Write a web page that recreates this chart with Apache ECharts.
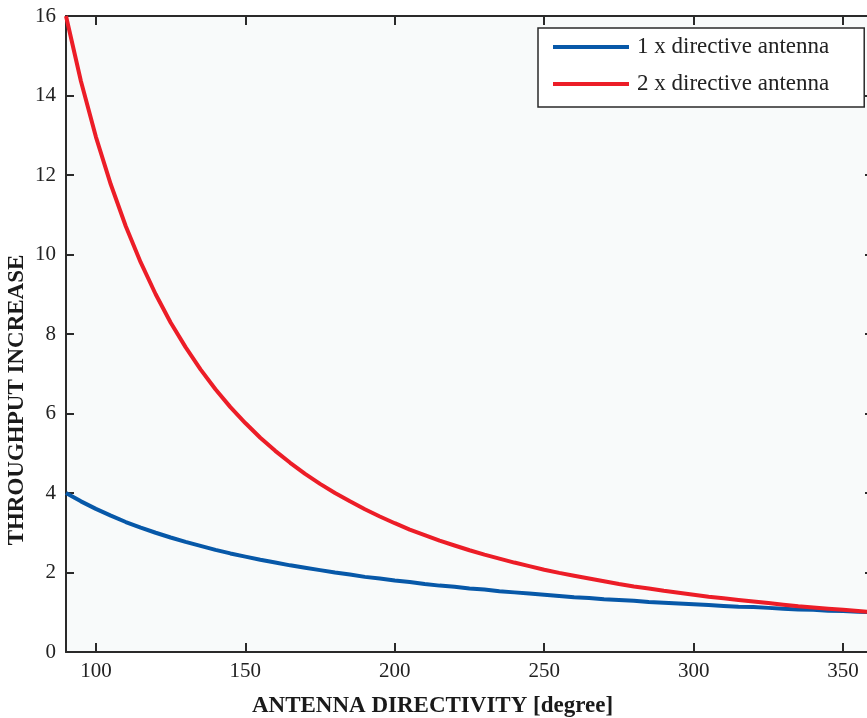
<!DOCTYPE html>
<html>
<head>
<meta charset="utf-8">
<script src="https://cdn.jsdelivr.net/npm/echarts@6/dist/echarts.min.js"></script>
<style>html,body{margin:0;padding:0;background:#fff}#c{width:867px;height:718px}</style>
</head>
<body>
<div id="c"></div>
<script>
const directivity = [90,95,100,105,110,115,120,125,130,135,140,145,150,155,160,165,170,175,180,185,190,195,200,205,210,215,220,225,230,235,240,245,250,255,260,265,270,275,280,285,290,295,300,305,310,315,320,325,330,335,340,345,350,355,360];
const oneAntenna = [4.00,3.79,3.60,3.43,3.27,3.13,3.00,2.88,2.77,2.67,2.57,2.48,2.40,2.32,2.25,2.18,2.12,2.06,2.00,1.95,1.89,1.85,1.80,1.76,1.71,1.67,1.64,1.60,1.57,1.53,1.50,1.47,1.44,1.41,1.38,1.36,1.33,1.31,1.29,1.26,1.24,1.22,1.20,1.18,1.16,1.14,1.13,1.11,1.09,1.07,1.06,1.04,1.03,1.01,1.00];
const twoAntenna = [16.00,14.36,12.96,11.76,10.71,9.80,9.00,8.29,7.67,7.11,6.61,6.16,5.76,5.39,5.06,4.76,4.48,4.23,4.00,3.79,3.59,3.41,3.24,3.08,2.94,2.80,2.68,2.56,2.45,2.35,2.25,2.16,2.07,1.99,1.92,1.85,1.78,1.71,1.65,1.60,1.54,1.49,1.44,1.39,1.35,1.31,1.27,1.23,1.19,1.15,1.12,1.09,1.06,1.03,1.00];
const seriesNames = ['1 x directive antenna','2 x directive antenna'];
const xTicks = [100,150,200,250,300,350];
const yTicks = [0,2,4,6,8,10,12,14,16];
const xTitle = 'ANTENNA DIRECTIVITY [degree]';
const yTitle = 'THROUGHPUT INCREASE';

const font = 'Liberation Serif';
const axisCol = '#2a2a2a';
const chart = echarts.init(document.getElementById('c'), null, {renderer:'canvas'});
const pair = arr => directivity.map((x,i)=>[x,arr[i]]);
const baseX = {
  type:'value', min:90, max:360, interval:50,
  axisLine:{show:true,onZero:false,lineStyle:{color:axisCol,width:2}},
  axisTick:{show:true,inside:true,length:9,lineStyle:{color:axisCol,width:2},
    customValues: xTicks},
  splitLine:{show:false}
};
const baseY = {
  type:'value', min:0, max:16, interval:2,
  axisLine:{show:true,onZero:false,lineStyle:{color:axisCol,width:2}},
  axisTick:{show:true,inside:true,length:8,lineStyle:{color:axisCol,width:2},
    customValues: yTicks},
  splitLine:{show:false}
};
chart.setOption({
  animation:false,
  backgroundColor:'#ffffff',
  grid:{left:66,right:-6,top:16,bottom:66,show:true,backgroundColor:'#f8fafa',borderWidth:0,
    containLabel:false, outerBoundsMode:'none'},
  legend:{
    data:seriesNames.map(n=>({name:n,icon:'rect'})),
    orient:'vertical', left:538, top:28,
    itemWidth:76, itemHeight:4, itemGap:13,
    padding:[7,35,11,15],
    backgroundColor:'#ffffff', borderColor:'#2a2a2a', borderWidth:1.5, borderRadius:0,
    textStyle:{fontFamily:font,fontSize:23,color:'#222',lineHeight:24,padding:[0,0,0,3]}
  },
  graphic:[{
    type:'text', x:17, y:400, rotation:Math.PI/2,
    style:{text:yTitle, fontFamily:font, fontSize:23, fontWeight:'bold', fill:'#1a1a1a',
      textAlign:'center', textVerticalAlign:'middle'}
  }],
  xAxis:[
    Object.assign({}, baseX, {position:'bottom',
      axisLabel:{show:true,margin:9,fontFamily:font,fontSize:21,color:'#222',
        customValues: xTicks},
      name:xTitle, nameLocation:'middle', nameGap:43,
      nameTextStyle:{fontFamily:font,fontSize:23,fontWeight:'bold',color:'#1a1a1a',
        padding:[0,74,0,0]}}),
    Object.assign({}, baseX, {position:'top', axisLabel:{show:false}})
  ],
  yAxis:[
    Object.assign({}, baseY, {position:'left',
      axisLabel:{show:true,margin:10,fontFamily:font,fontSize:21,color:'#222',
        customValues: yTicks}}),
    Object.assign({}, baseY, {position:'right', axisLabel:{show:false}})
  ],
  series:[
    {name:seriesNames[0], type:'line', data:pair(oneAntenna), showSymbol:false, symbol:'none',
      lineStyle:{color:'#0758a8',width:4}, itemStyle:{color:'#0758a8'}, xAxisIndex:0, yAxisIndex:0},
    {name:seriesNames[1], type:'line', data:pair(twoAntenna), showSymbol:false, symbol:'none',
      lineStyle:{color:'#ec1d27',width:4}, itemStyle:{color:'#ec1d27'}, xAxisIndex:0, yAxisIndex:0}
  ]
});
</script>
</body>
</html>
